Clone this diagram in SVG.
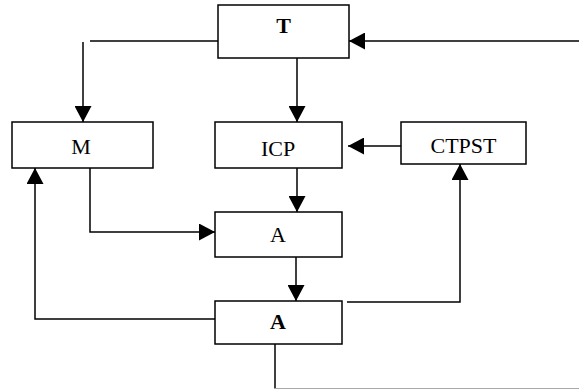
<svg xmlns="http://www.w3.org/2000/svg" width="579" height="389" viewBox="0 0 579 389">
<style>
.box{fill:#fff;stroke:#000;stroke-width:1.5}
.lbl{font-family:"Liberation Serif","Times New Roman",serif;font-size:22px;text-anchor:middle;fill:#000}
.b{font-weight:bold}
.c{fill:none;stroke:#000;stroke-width:1.5}
</style>
<defs>
<marker id="ah" viewBox="0 0 16 17" refX="16" refY="8.5" markerWidth="16" markerHeight="17" markerUnits="userSpaceOnUse" orient="auto">
<path d="M0,0 L16,8.5 L0,17 z" fill="#000"/>
</marker>
</defs>
<rect width="579" height="389" fill="#fff"/>
<g id="connectors">
<path class="c" d="M218,41 H90"/>
<path class="c" d="M83,42 V122" marker-end="url(#ah)"/>
<path class="c" d="M579,41 H349" marker-end="url(#ah)"/>
<path class="c" d="M297,58 V122" marker-end="url(#ah)"/>
<path class="c" d="M401,146 H348" marker-end="url(#ah)"/>
<path class="c" d="M297,168 V212" marker-end="url(#ah)"/>
<path class="c" d="M90,168 V232 H215" marker-end="url(#ah)"/>
<path class="c" d="M296,257 V301" marker-end="url(#ah)"/>
<path class="c" d="M215,319 H35 V168" marker-end="url(#ah)"/>
<path class="c" d="M347,302 H460 V164" marker-end="url(#ah)"/>
<path class="c" d="M275,344 V388.5"/>
<path d="M275,388.5 H579" fill="none" stroke="#a8a8a8" stroke-width="1"/>
</g>
<g id="T"><rect class="box" x="218" y="5" width="131" height="53"/><text class="lbl b" x="283.5" y="33">T</text></g>
<g id="M"><rect class="box" x="12" y="122" width="141" height="46"/><text class="lbl" x="81" y="154">M</text></g>
<g id="ICP"><rect class="box" x="215" y="122" width="127" height="46"/><text class="lbl" x="278" y="156">ICP</text></g>
<g id="CTPST"><rect class="box" x="401" y="122" width="125" height="42"/><text class="lbl" x="463.5" y="153">CTPST</text></g>
<g id="A1"><rect class="box" x="215" y="212" width="127" height="45"/><text class="lbl" x="278" y="242">A</text></g>
<g id="A2"><rect class="box" x="215" y="301" width="127" height="43"/><text class="lbl b" x="278" y="329">A</text></g>
</svg>
